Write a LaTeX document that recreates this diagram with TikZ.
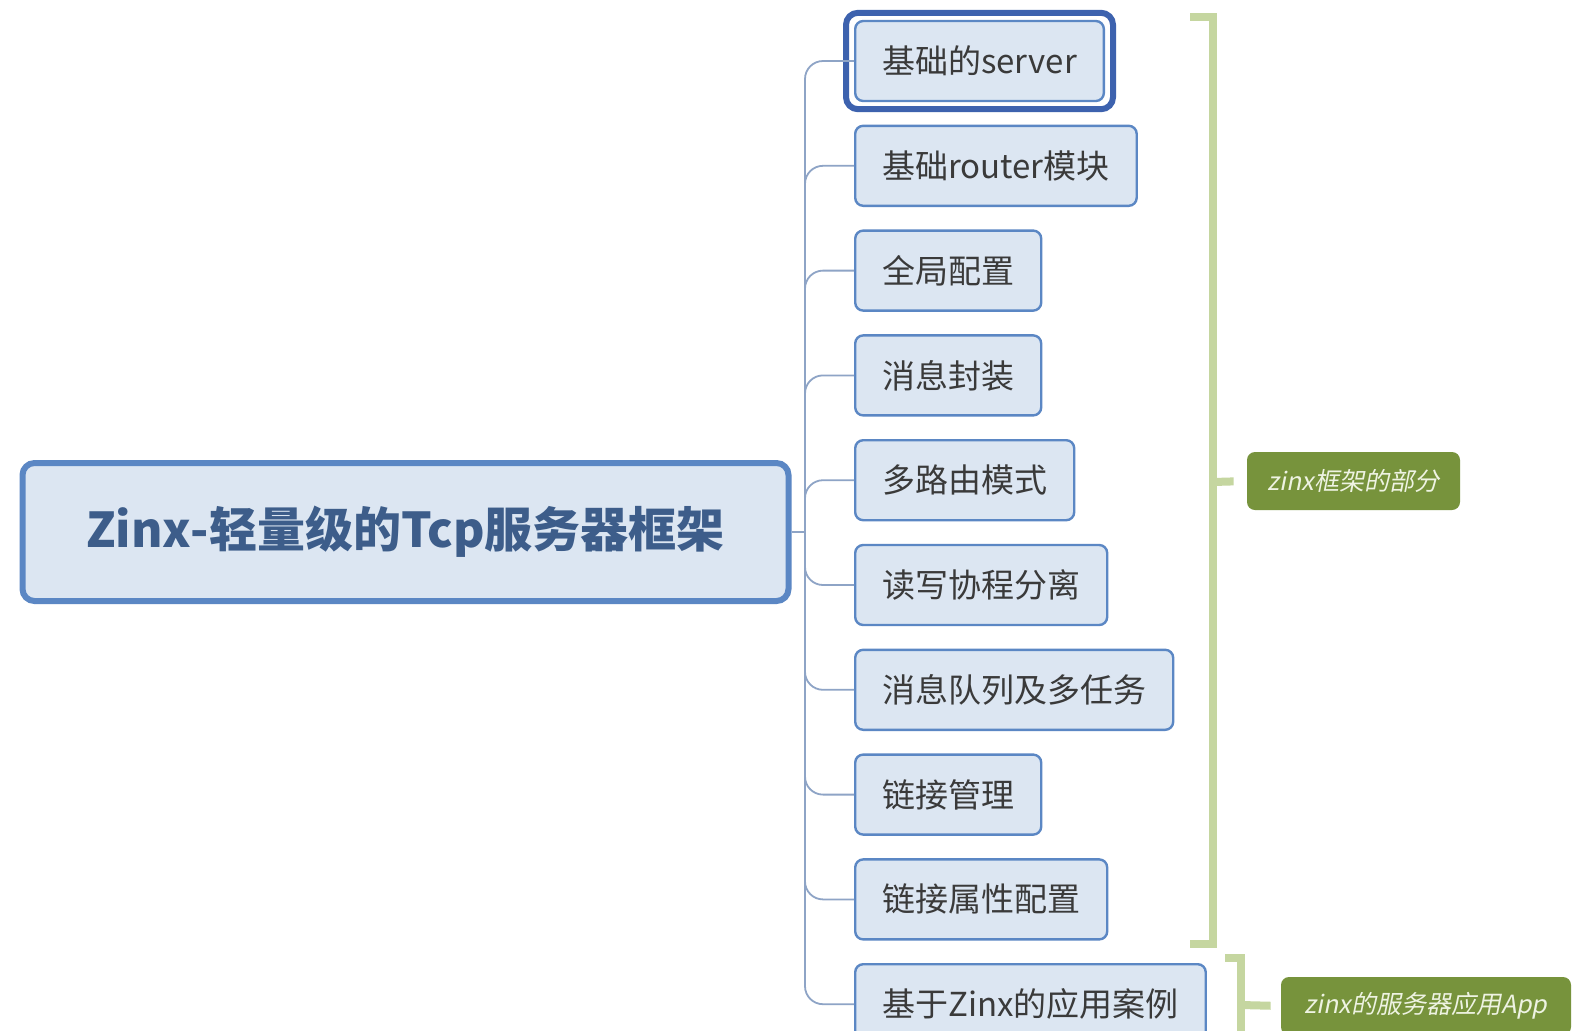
\documentclass[tikz,border=0pt]{standalone}
\usepackage{fontspec}
\setmainfont{Noto Sans CJK SC}
\newfontfamily\notefont[FakeSlant=0.2]{Noto Sans CJK SC}
\usepackage{tikz}

\definecolor{boxfill}{HTML}{DCE6F2}
\definecolor{boxline}{HTML}{5B87C4}
\definecolor{roottext}{HTML}{3D5D8A}
\definecolor{topictext}{HTML}{3A3A3A}
\definecolor{branchline}{HTML}{8EA4C6}
\definecolor{selblue}{HTML}{3D62AE}
\definecolor{bracketgreen}{HTML}{C5D6A0}
\definecolor{notegreen}{HTML}{77933C}
\definecolor{notetext}{HTML}{EEF3E2}

\tikzset{
  rootbox/.style={draw=boxline, line width=3pt, fill=boxfill, rounded corners=6pt,
    minimum width=383pt, minimum height=69pt, text=roottext,
    font=\bfseries\fontsize{24}{28}\selectfont},
  topicbox/.style={draw=boxline, line width=1.2pt, fill=boxfill, rounded corners=4pt,
    anchor=west, minimum height=40pt, inner xsep=13.5pt, text=topictext,
    font=\fontsize{16.5}{20}\selectfont},
  selframe/.style={draw=selblue, line width=3pt, rounded corners=6pt},
  branch/.style={draw=branchline, line width=0.9pt, rounded corners=9pt},
  bracketline/.style={draw=bracketgreen, line width=4pt},
  notebox/.style={fill=notegreen, rounded corners=4pt, minimum height=29pt,
    text=notetext, font=\notefont\fontsize{12.5}{15}\selectfont}
}

\begin{document}
\begin{tikzpicture}[x=0.5pt,y=-0.5pt]
\useasboundingbox (0,0) rectangle (1592,1030);
\clip (0,0) rectangle (1592,1030);
\fill[white] (0,0) rectangle (1592,1030);

% Central topic
\node[rootbox] (root) at (405.5,532) {Zinx-轻量级的Tcp服务器框架};
\coordinate (hub) at (805,532);

% Subtopics
\foreach \txt [count=\i] in {基础的server, 基础router模块, 全局配置, 消息封装,
    多路由模式, 读写协程分离, 消息队列及多任务, 链接管理, 链接属性配置,
    基于Zinx的应用案例}
  \node[topicbox] (t\i) at (854,{61+104.8*(\i-1)}) {\txt};

% Selection frame
\draw[selframe] ([shift={(-8,-7)}]t1.north west) rectangle ([shift={(8,7)}]t1.south east);

% Branches
\draw[branch] (root.east) -- (hub);
\foreach \i in {1,...,10}
  \draw[branch] (hub) |- (t\i.west);

% Brackets
\draw[bracketline] (1190,17) -- (1213,17) -- (1213,944) -- (1190,944);
\coordinate (brA) at (1213,482);
\draw[bracketline] (1225,958) -- (1241,958) -- (1241,1040);
\coordinate (brB) at (1241,1005);

% Notes
\node[notebox, minimum width=106.5pt] (noteA) at (1353.5,481) {zinx框架的部分};
\node[notebox, minimum width=145pt] (noteB) at (1426,1006) {zinx的服务器应用App};
\draw[bracketline, shorten >=6.5pt] (brA) -- (noteA.west);
\draw[bracketline, shorten >=5pt] (brB) -- (noteB.west);
\end{tikzpicture}
\end{document}
